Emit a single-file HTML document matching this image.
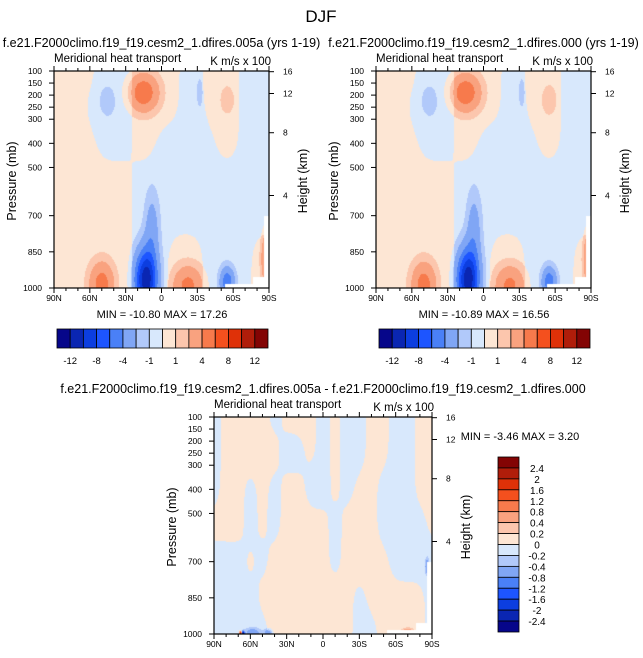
<!DOCTYPE html>
<html><head><meta charset="utf-8">
<style>
html,body{margin:0;padding:0;background:#fff;}
#wrap{position:relative;width:643px;height:658px;overflow:hidden;font-family:"Liberation Sans",Arial,sans-serif;}
canvas{position:absolute;}
svg{position:absolute;left:0;top:0;}
text{font-family:"Liberation Sans",Arial,sans-serif;fill:#000;}
</style></head>
<body>
<div id="wrap">
<canvas id="c1" width="215" height="217" style="left:54px;top:71px"></canvas>
<canvas id="c2" width="215" height="217" style="left:376px;top:71px"></canvas>
<canvas id="c3" width="218" height="217" style="left:214px;top:417px"></canvas>
<svg id="svg" width="643" height="658"></svg>
</div>
<script>
// ---- data ----
const levelsTop = [-12,-10,-8,-6,-4,-2,-1,0,1,2,4,6,8,10,12];
const levelsDiff = [-2.4,-2,-1.6,-1.2,-0.8,-0.4,-0.2,0,0.2,0.4,0.8,1.2,1.6,2,2.4];
const colors = ["#06068a","#0a26b2","#0c3ee0","#1d55ff","#4a80f7","#80a6f5","#b1c9fa","#d8e8fc","#fde6d4","#fcc6ad","#f9a27f","#f77a4c","#f4501e","#df3108","#b01d0a","#830404"];
const presTicks = [100,150,200,250,300,400,500,700,850,1000];
const heightTicks = [4,8,12,16];
const latTicks = [90,60,30,0,-30,-60,-90];
const latTickLabels = ["90N","60N","30N","0","30S","60S","90S"];
const diffLabels = ["2.4","2","1.6","1.2","0.8","0.4","0.2","0","-0.2","-0.4","-0.8","-1.2","-1.6","-2","-2.4"];
const gridLats = [90,80,70,60,50,40,30,20,10,0,-10,-20,-30,-40,-50,-60,-70,-80,-90];
const gridPres = [100,250,400,550,700,850,1000];
const topGrid = [
 [1,1,1,1,-1,-1,-1,1,1,1,1,-1,-1,1,1,1,-1,-1,-1],
 [1,1,1,-1,-1,-1,-1,1,1,1,1,-1,-1,1,1,1,-1,-1,-1],
 [1,1,1,1,-1,-1,-1,1,1,-1,-1,-1,-1,-1,1,1,-1,-1,-1],
 [1,1,1,1,1,1,1,-1,-1,-1,-1,-1,-1,-1,-1,-1,-1,-1,1],
 [1,1,1,1,1,1,1,-1,-1,-1,-1,-1,-1,-1,-1,-1,-1,-1,-1],
 [1,1,1,1,1,1,1,-1,-1,-1,1,1,1,-1,-1,-1,-1,1,1],
 [1,1,1,1,1,1,1,-1,-1,-1,1,1,1,-1,-1,-1,-1,1,1]];
const blobsA = [[15,190,12,75,5.2],[-55,220,6,60,1.2],[45,225,7,65,-1.2],[-32,190,2.5,60,-1.2],[13,965,9,120,-11],[8,760,6,150,-2.5],[50,985,10,90,4.6],[-22,990,12,80,4.2],[-55,975,6,60,-5],[-88,880,4,100,5]];
const blobsB = [[15,190,12,75,5.2],[-55,220,6,60,1.4],[45,225,7,65,-1.2],[-32,190,2.5,60,-1.2],[13,965,9,120,-11],[8,760,6,150,-2.5],[50,985,10,90,4.5],[-22,990,12,80,4.1],[-55,975,6,60,-5],[-88,880,4,100,4.6]];
const diffGrid = [
 [-1,1,1,1,1,-1,1,1,1,-1,1,-1,-1,1,1,-1,-1,1,1],
 [-1,1,1,1,1,1,-1,-1,1,-1,1,-1,-1,1,1,-1,-1,1,1],
 [-1,1,1,-1,1,-1,1,1,-1,-1,1,-1,1,1,-1,-1,-1,1,1],
 [1,1,1,-1,1,-1,1,1,1,1,-1,1,1,1,-1,-1,-1,-1,1],
 [-1,-1,-1,1,-1,1,1,1,1,1,-1,1,1,1,1,-1,-1,-1,-1],
 [-1,-1,1,-1,1,1,1,1,1,1,1,1,-1,1,1,1,1,1,-1],
 [-1,-1,-1,-1,-1,1,1,1,1,1,1,1,-1,-1,1,1,1,1,-1]];
const blobsDiff = [[58,995,6,18,-0.6],[66,997,1.2,8,-2.6],[68,997,1,8,2.6],[45,995,3,15,-0.7],[-70,995,4,14,1.4],[-86,720,1.5,30,-0.7]];

// ---- helpers ----
function yP(p,oy){return oy+(p-100)/900*217;}
function xL(lat,ox,w){return ox+(90-lat)/180*w;}
function pFromZ(z){const m=z*1000; if(m<=11000) return 1013.25*Math.pow(1-2.25577e-5*m,5.25588); return 226.32*Math.exp(-(m-11000)/6341.6);}
function colorFor(v,lv){let i=0; while(i<lv.length && v>=lv[i]) i++; return colors[i];}
function masked(lat,p){return (lat<-53&&p>985)||(lat<-77&&p>955)||(lat<-86&&p>700);}
function gridVal(g,lat,p,sx,sy,bias){
  let fi=(90-lat)/10, fj=0;
  for(let j=0;j<gridPres.length-1;j++){if(p>=gridPres[j]) fj=j+(p-gridPres[j])/(gridPres[j+1]-gridPres[j]);}
  let s=bias;
  const i0=Math.round(fi), j0=Math.round(fj);
  for(let j=j0-3;j<=j0+3;j++){if(j<0||j>=g.length) continue;
    for(let i=i0-3;i<=i0+3;i++){if(i<0||i>=g[0].length) continue;
      s+=g[j][i]*Math.exp(-((fi-i)**2/(2*sx*sx)+(fj-j)**2/(2*sy*sy)));}}
  return s;
}
function addBlobs(v,blobs,lat,p){for(const b of blobs){v+=b[4]*Math.exp(-(((lat-b[0])/b[2])**2+((p-b[1])/b[3])**2));}return v;}
function fieldTop(lat,p,blobs){return addBlobs(gridVal(topGrid,lat,p,0.75,0.6,0.02)>=0?0.5:-0.5,blobs,lat,p);}
function fieldDiff(lat,p){return addBlobs(gridVal(diffGrid,lat,p,0.6,0.55,-0.2)>=0?0.1:-0.1,blobsDiff,lat,p);}
function paint(id,fn,lv){
  const c=document.getElementById(id), ctx=c.getContext('2d');
  const W=c.width,H=c.height, img=ctx.createImageData(W,H);
  for(let y=0;y<H;y++)for(let x=0;x<W;x++){
    const lat=90-(x+0.5)/W*180, p=100+(y+0.5)/H*900;
    let col='#ffffff';
    if(!masked(lat,p)) col=colorFor(fn(lat,p),lv);
    const k=(y*W+x)*4;
    img.data[k]=parseInt(col.substr(1,2),16);img.data[k+1]=parseInt(col.substr(3,2),16);img.data[k+2]=parseInt(col.substr(5,2),16);img.data[k+3]=255;
  }
  ctx.putImageData(img,0,0);
}
paint('c1',(a,b)=>fieldTop(a,b,blobsA),levelsTop);
paint('c2',(a,b)=>fieldTop(a,b,blobsB),levelsTop);
paint('c3',fieldDiff,levelsDiff);

// ---- svg axes ----
const svg=document.getElementById('svg'), NS='http://www.w3.org/2000/svg';
function el(tag,attrs,txt){const e=document.createElementNS(NS,tag);for(const k in attrs)e.setAttribute(k,attrs[k]);if(txt!==undefined)e.textContent=txt;svg.appendChild(e);return e;}
function txt(x,y,s,size,anchor,name){const t=el('text',{x:x,y:y,'font-size':size,'text-anchor':anchor||'start'},s);


return t;}

function panel(ox,oy,w,title,minmax,mmx,mmy,key){
  txt(ox+w/2,oy-24,title,12.5,'middle',key+'-title');
  txt(ox,oy-9,'Meridional heat transport',11.5,'start',key+'-subtitle');
  txt(ox+w+2,oy-6,'K m/s x 100',11.5,'end',key+'-units');
  const fr=el('rect',{x:ox,y:oy,width:w,height:217,fill:'none',stroke:'#000','stroke-width':1.2});
  
  
  presTicks.forEach(p=>{const y=yP(p,oy);
    el('line',{x1:ox-5,x2:ox,y1:y,y2:y,stroke:'#000','stroke-width':1});
    txt(ox-12,y+3,String(p),8.5,'end',key+'-y-tick-label');});
  heightTicks.forEach(z=>{const y=yP(pFromZ(z),oy);
    el('line',{x1:ox+w,x2:ox+w+5,y1:y,y2:y,stroke:'#000','stroke-width':1});
    txt(ox+w+14,y+3,String(z),8.5,'start',key+'-right-tick-label');});
  for(let lat=90;lat>=-90;lat-=10){const x=xL(lat,ox,w);const major=lat%30===0;
    el('line',{x1:x,x2:x,y1:oy+217,y2:oy+217+(major?5:3),stroke:'#000','stroke-width':1});
    el('line',{x1:x,x2:x,y1:oy,y2:oy-(major?5:3),stroke:'#000','stroke-width':1});}
  latTicks.forEach((lat,i)=>{txt(xL(lat,ox,w),oy+230,latTickLabels[i],8.5,'middle',key+'-x-tick-label');});
  const yl=txt(0,0,'Pressure (mb)',12.5,'middle',key+'-y-axis-title');yl.setAttribute('transform','translate('+(ox-38)+','+(oy+110)+') rotate(-90)');
  const hl=txt(0,0,'Height (km)',12.5,'middle',key+'-right-axis-title');hl.setAttribute('transform','translate('+(ox+w+38)+','+(oy+110)+') rotate(-90)');
  txt(mmx,mmy,minmax,11,'middle',key+'-min-max');
}
txt(321,22,'DJF',17,'middle','figure-title');
panel(54,71,215,'f.e21.F2000climo.f19_f19.cesm2_1.dfires.005a (yrs 1-19)','MIN = -10.80  MAX =  17.26',162,318,'panel-005a');
panel(376,71,215,'f.e21.F2000climo.f19_f19.cesm2_1.dfires.000 (yrs 1-19)','MIN = -10.89  MAX =  16.56',484,318,'panel-000');
panel(214,417,218,'f.e21.F2000climo.f19_f19.cesm2_1.dfires.005a - f.e21.F2000climo.f19_f19.cesm2_1.dfires.000','MIN =  -3.46  MAX =   3.20',520,440,'panel-diff');

function hbar(ox,key){
  const bw=(268-57)/16;
  colors.forEach((c,i)=>{const r=el('rect',{x:ox+i*bw,y:329,width:bw,height:19,fill:c,stroke:'#000','stroke-width':0.8});
    
    });
  levelsTop.forEach((v,i)=>{if(i%2===0) txt(ox+(i+1)*bw,364,String(v),9.5,'middle',key+'-colorbar-label');});
}
hbar(57,'panel-005a');hbar(379,'panel-000');
(function(){const bh=(632-457)/16;
  colors.slice().reverse().forEach((c,i)=>{const r=el('rect',{x:498,y:457+i*bh,width:21,height:bh,fill:c,stroke:'#000','stroke-width':0.8});
    
    });
  diffLabels.forEach((s,i)=>{txt(537,457+(i+1)*bh+4,s,10,'middle','panel-diff-colorbar-label');});
})();
</script>
</body></html>
